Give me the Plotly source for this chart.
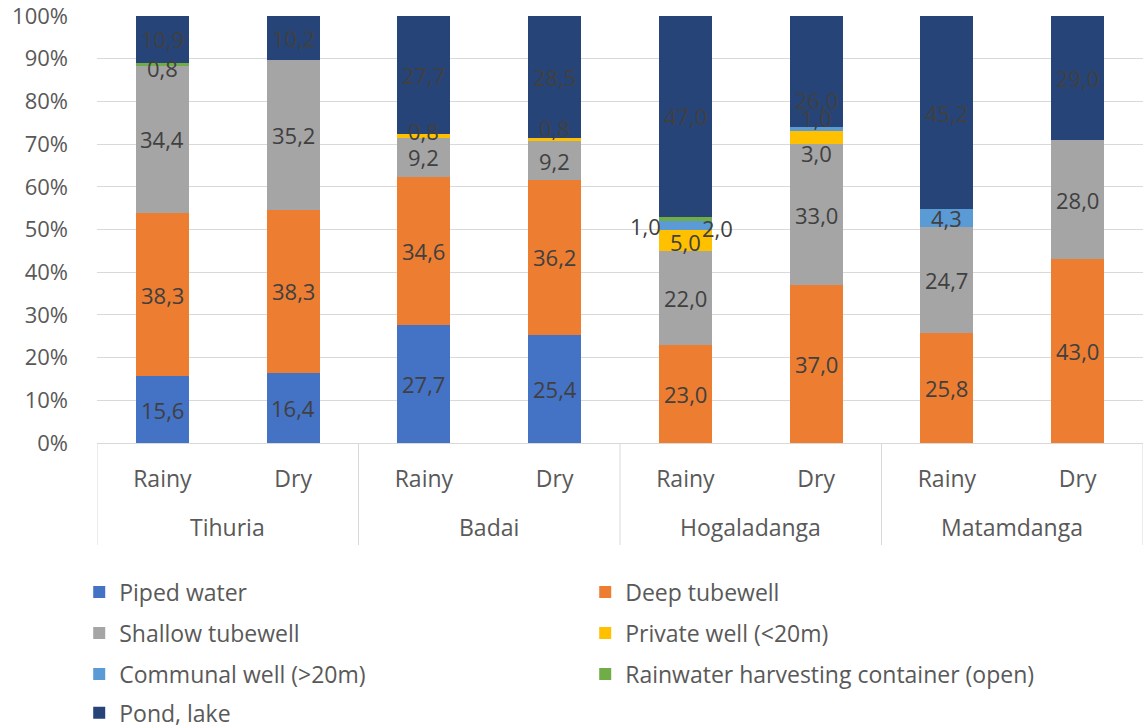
import plotly.graph_objects as go

# Sites and seasons (two-level x axis)
sites = ["Tihuria", "Badai", "Hogaladanga", "Matamdanga"]
seasons = ["Rainy", "Dry"]

# Share of households (%) per water source, one value per site/season bar
piped = [15.6, 16.4, 27.7, 25.4, 0, 0, 0, 0]
deep = [38.3, 38.3, 34.6, 36.2, 23.0, 37.0, 25.8, 43.0]
shallow = [34.4, 35.2, 9.2, 9.2, 22.0, 33.0, 24.7, 28.0]
private_well = [0, 0, 0.8, 0.8, 5.0, 3.0, 0, 0]
communal_well = [0, 0, 0, 0, 2.0, 1.0, 4.3, 0]
rainwater = [0.8, 0, 0, 0, 1.0, 0, 0, 0]
pond = [10.9, 10.2, 27.7, 28.5, 47.0, 26.0, 45.2, 29.0]

# Percentage axis ticks
y_ticks = list(range(0, 101, 10))
y_tick_labels = [f"{t}%" for t in y_ticks]

series_names = ["Piped water", "Deep tubewell", "Shallow tubewell", "Private well (<20m)",
                "Communal well (>20m)", "Rainwater harvesting container (open)", "Pond, lake"]
series_values = [piped, deep, shallow, private_well, communal_well, rainwater, pond]
colors = ["#4472C4", "#ED7D31", "#A5A5A5", "#FFC000", "#5B9BD5", "#70AD47", "#264478"]

# Pixel nudges for labels that would otherwise collide: (bar index, series) -> (dx, dy)
label_nudge = {
    (0, 5): (0, -4),
    (2, 3): (0, 5),
    (3, 3): (0, 11),
    (4, 3): (0, -2),
    (4, 4): (32, -3),
    (4, 5): (-40, -7),
    (5, 3): (0, -15),
    (5, 4): (0, 11),
    (5, 6): (0, -28),
}

FONT = "Open Sans, DejaVu Sans, sans-serif"
TXT = "#595959"
LBL = "#404040"

n_bars = len(sites) * len(seasons)
xpos = list(range(n_bars))
tick_text = [s for _ in sites for s in seasons]

# Legend laid out two entries per row, each row its own legend box
legend_rows = ["legend", "legend", "legend2", "legend2", "legend3", "legend3", "legend4"]

fig = go.Figure()
for name, vals, col, lg in zip(series_names, series_values, colors, legend_rows):
    fig.add_trace(go.Bar(
        x=xpos, y=vals, name=name, legend=lg,
        marker=dict(color=col, line=dict(width=0)),
        hoverinfo="name+y",
    ))

# Value labels at the centre of each (normalised) segment
annotations = []
totals = [sum(s[i] for s in series_values) for i in range(n_bars)]
for i in range(n_bars):
    cum = 0.0
    for k, vals in enumerate(series_values):
        v = vals[i]
        if v <= 0:
            continue
        share = v / totals[i] * 100
        mid = cum + share / 2
        cum += share
        dx, dy = label_nudge.get((i, k), (0, 0))
        annotations.append(dict(
            x=i, y=mid, xref="x", yref="y",
            text=f"{v:.1f}".replace(".", ","),
            showarrow=False, xshift=dx, yshift=dy,
            font=dict(family=FONT, size=22, color=LBL),
        ))

# Site names under the season labels
for g, site in enumerate(sites):
    centre = g * len(seasons) + (len(seasons) - 1) / 2
    annotations.append(dict(
        x=centre, y=-0.197, xref="x", yref="paper", text=site,
        showarrow=False, yanchor="middle",
        font=dict(family=FONT, size=23, color=TXT),
    ))

# Group dividers through the category label area
shapes = []
for g in range(len(sites) + 1):
    xb = g * len(seasons) - 0.5
    shapes.append(dict(
        type="line", xref="x", yref="paper", x0=xb, x1=xb, y0=0, y1=-0.239,
        line=dict(color="#D9D9D9", width=1),
    ))

legend_style = dict(
    orientation="h", xanchor="left", yanchor="middle",
    entrywidth=461, entrywidthmode="pixels", traceorder="normal",
    font=dict(family=FONT, size=23, color=TXT), itemwidth=30,
    bgcolor="rgba(0,0,0,0)",
)
legend_x = -0.017

fig.update_layout(
    width=1144, height=728,
    margin=dict(l=97, r=1, t=16, b=285, autoexpand=False),
    barmode="stack", barnorm="percent", bargap=0.595,
    plot_bgcolor="white", paper_bgcolor="white",
    font=dict(family=FONT, size=23, color=TXT),
    xaxis=dict(
        tickmode="array", tickvals=xpos, ticktext=tick_text,
        range=[-0.5, n_bars - 0.5], showgrid=False, zeroline=False,
        showline=False, ticks="", ticklabelstandoff=20, automargin=False,
        tickfont=dict(family=FONT, size=23, color=TXT),
    ),
    yaxis=dict(
        range=[0, 100], tickmode="array", tickvals=y_ticks, ticktext=y_tick_labels,
        ticklabeloverflow="allow", automargin=False,
        showgrid=True, gridcolor="#D9D9D9", gridwidth=1,
        zeroline=True, zerolinecolor="#D9D9D9", zerolinewidth=1,
        showline=False, ticks="", ticklabelstandoff=28,
        tickfont=dict(family=FONT, size=22, color=TXT),
    ),
    legend=dict(x=legend_x, y=-0.349, **legend_style),
    legend2=dict(x=legend_x, y=-0.445, **legend_style),
    legend3=dict(x=legend_x, y=-0.541, **legend_style),
    legend4=dict(x=legend_x, y=-0.632, **legend_style),
    annotations=annotations,
    shapes=shapes,
    showlegend=True,
)

fig.write_html("out.html")
